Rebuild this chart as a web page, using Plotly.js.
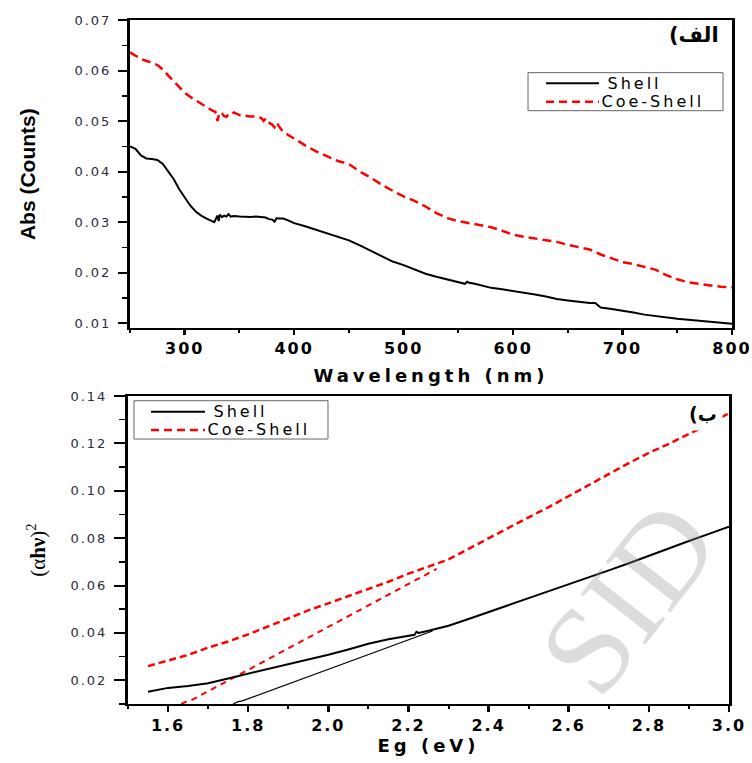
<!DOCTYPE html>
<html>
<head>
<meta charset="utf-8">
<script src="https://cdn.plot.ly/plotly-3.0.1.min.js"></script>
<style>
  html, body { margin: 0; padding: 0; background: #fff; }
  #chart { width: 752px; height: 763px; }
  .ytick text, .y2tick text { letter-spacing: 2px; }
  .xtick text, .x2tick text { letter-spacing: 2px; }
  .g-xtitle text, .g-x2title text { letter-spacing: 4px; }
  .annotation[data-index="3"] text, .annotation[data-index="4"] text,
  .annotation[data-index="5"] text, .annotation[data-index="6"] text { letter-spacing: 3px; }
</style>
</head>
<body>
<div id="chart"></div>
<script>
// ---------- Panel (الف): absorbance vs wavelength ----------
const wlShell = [250,255,260,265,270,275,280,285,290,295,300,305,310,315,320,325,327,329,330,331,332,334,336,338,340,342,345,350,355,360,365,370,374,377,380,382,384,386,390,395,400,410,420,430,440,450,460,470,480,490,500,510,520,530,540,550,556,558,560,565,570,580,590,600,610,620,630,640,650,660,670,675,680,690,700,710,720,730,740,750,760,770,780,790,800];
const absShell = [0.0450,0.0445,0.0432,0.0426,0.0425,0.0423,0.0415,0.0400,0.0385,0.0365,0.0348,0.0333,0.0321,0.0313,0.0307,0.0302,0.0300,0.0309,0.0313,0.0302,0.0315,0.0310,0.0313,0.0311,0.0316,0.0311,0.0312,0.0311,0.0310,0.0310,0.0311,0.0310,0.0309,0.0306,0.0305,0.0301,0.0308,0.0307,0.0307,0.0303,0.0298,0.0292,0.0285,0.0279,0.0272,0.0264,0.0254,0.0243,0.0232,0.0222,0.0215,0.0206,0.0198,0.0192,0.0187,0.0181,0.0178,0.0182,0.0180,0.0178,0.0175,0.0170,0.0167,0.0164,0.0161,0.0157,0.0153,0.0148,0.0145,0.0142,0.0140,0.0140,0.0131,0.0128,0.0125,0.0121,0.0117,0.0114,0.0112,0.0109,0.0107,0.0105,0.0103,0.0101,0.0099];

const wlCoe = [250,255,260,265,270,275,280,285,290,295,300,305,310,315,320,325,328,329,330,331,332,334,336,338,340,342,345,350,355,360,365,370,372,374,376,378,380,382,384,386,390,395,400,410,420,430,440,450,460,470,480,490,500,510,520,530,540,550,560,570,580,590,600,610,620,630,640,650,660,670,680,690,700,710,720,730,740,750,760,770,780,790,800];
const absCoe = [0.0636,0.0630,0.0623,0.0619,0.0616,0.0611,0.0602,0.0590,0.0578,0.0566,0.0556,0.0548,0.0541,0.0535,0.0528,0.0521,0.0518,0.0506,0.0500,0.0510,0.0517,0.0515,0.0510,0.0508,0.0514,0.0513,0.0517,0.0512,0.0510,0.0509,0.0509,0.0506,0.0500,0.0505,0.0498,0.0496,0.0493,0.0488,0.0497,0.0490,0.0478,0.0472,0.0465,0.0452,0.0440,0.0431,0.0421,0.0415,0.0400,0.0388,0.0374,0.0362,0.0351,0.0342,0.0331,0.0318,0.0308,0.0302,0.0298,0.0295,0.0290,0.0283,0.0275,0.0271,0.0268,0.0265,0.0261,0.0255,0.0251,0.0246,0.0236,0.0229,0.0221,0.0217,0.0212,0.0206,0.0195,0.0187,0.0181,0.0178,0.0175,0.0172,0.0171];

// ---------- Panel (ب): (αhν)^2 vs Eg ----------
const egShell = [1.55,1.60,1.65,1.70,1.75,1.80,1.82,1.83,1.85,1.90,1.95,2.00,2.05,2.10,2.15,2.20,2.215,2.22,2.225,2.25,2.30,2.35,2.40,2.45,2.50,2.55,2.60,2.65,2.70,2.75,2.80,2.85,2.90,2.95,3.00];
const ahvShell = [0.0152,0.0168,0.0176,0.0188,0.0208,0.0228,0.0234,0.0240,0.0246,0.0266,0.0287,0.0308,0.0330,0.0354,0.0373,0.0389,0.0392,0.0405,0.0400,0.0409,0.0430,0.0459,0.0488,0.0516,0.0545,0.0574,0.0604,0.0634,0.0664,0.0694,0.0726,0.0756,0.0788,0.0818,0.0848];

const egShellFit = [1.7625,1.775,1.785,2.225,2.26];
const ahvShellFit = [0.0100,0.0110,0.0113,0.0387,0.0408];

const egCoe = [1.55,1.60,1.65,1.70,1.75,1.80,1.85,1.90,1.95,2.00,2.05,2.10,2.15,2.20,2.25,2.30,2.35,2.40,2.45,2.50,2.55,2.60,2.65,2.70,2.75,2.80,2.85,2.90,2.95,3.00];
const ahvCoe = [0.0260,0.0282,0.0307,0.0338,0.0364,0.0394,0.0428,0.0463,0.0495,0.0525,0.0555,0.0586,0.0616,0.0650,0.0679,0.0710,0.0755,0.0800,0.0846,0.0888,0.0931,0.0978,0.1024,0.1071,0.1117,0.1160,0.1198,0.1240,0.1280,0.1328];

const egCoeFit = [1.633,1.645,1.655,2.27];
const ahvCoeFit = [0.0100,0.0110,0.0113,0.0670];

const seriesNames = ['Shell', 'Coe-Shell'];

const RED = '#ff0000';
const BLACK = '#000000';
const shellLine = {color:BLACK, width:2};
const coeLineTop = {color:RED, width:2.5, dash:'9px,5px'};
const coeLineBot = {color:RED, width:2.5, dash:'7px,4px'};

const traces = [
  {x: wlShell, y: absShell, xaxis:'x', yaxis:'y', type:'scatter', mode:'lines', name: seriesNames[0], line:shellLine, showlegend:false},
  {x: wlCoe, y: absCoe, xaxis:'x', yaxis:'y', type:'scatter', mode:'lines', name: seriesNames[1], line:coeLineTop, showlegend:false},
  {x: egShellFit, y: ahvShellFit, xaxis:'x2', yaxis:'y2', type:'scatter', mode:'lines', name: seriesNames[0] + ' fit', showlegend:false,
   line:{color:BLACK, width:1.2}},
  {x: egCoeFit, y: ahvCoeFit, xaxis:'x2', yaxis:'y2', type:'scatter', mode:'lines', name: seriesNames[1] + ' fit', showlegend:false,
   line:{color:RED, width:2, dash:'6px,5px'}},
  {x: egShell, y: ahvShell, xaxis:'x2', yaxis:'y2', type:'scatter', mode:'lines', name: seriesNames[0], line:shellLine, showlegend:false},
  {x: egCoe, y: ahvCoe, xaxis:'x2', yaxis:'y2', type:'scatter', mode:'lines', name: seriesNames[1], line:coeLineBot, showlegend:false}
];

const yTickFont = {family:'DejaVu Sans', size:13, color:'#2b2b3b'};
const xTickFont = {family:'DejaVu Sans', size:16, color:'#000', weight:'bold'};

const baseX = {
  showline:true, linewidth:2, linecolor:'#000', mirror:true, showgrid:false, zeroline:false,
  ticks:'outside', ticklen:5, tickwidth:2.5, tickcolor:'#000', tickfont:xTickFont
};
const baseY = {
  showline:true, linewidth:3, linecolor:'#000', mirror:true, showgrid:false, zeroline:false,
  ticks:'outside', tickwidth:2, tickcolor:'#000', tickfont:yTickFont, ticklabelstandoff:4
};

// legend boxes drawn in paper coordinates (layout only, not data)
function legendBox(x0, x1, y0, y1, yRow1, yRow2, lx0, lx1, tx, lineB, lineR) {
  return {
    shapes: [
      {type:'rect', xref:'paper', yref:'paper', x0:x0, x1:x1, y0:y0, y1:y1, line:{color:'#666', width:1}, fillcolor:'#fff', layer:'above'},
      {type:'line', xref:'paper', yref:'paper', x0:lx0, x1:lx1, y0:yRow1, y1:yRow1, line:lineB, layer:'above'},
      {type:'line', xref:'paper', yref:'paper', x0:lx0, x1:lx1, y0:yRow2, y1:yRow2, line:lineR, layer:'above'}
    ],
    annotations: [
      {text:seriesNames[0], xref:'paper', yref:'paper', x:tx, y:yRow1, xanchor:'left', yanchor:'middle', showarrow:false,
       font:{family:'DejaVu Sans', size:16, color:'#000'}},
      {text:seriesNames[1], xref:'paper', yref:'paper', x:tx, y:yRow2, xanchor:'left', yanchor:'middle', showarrow:false,
       font:{family:'DejaVu Sans', size:16, color:'#000'}}
    ]
  };
}
const legTop = legendBox(0.6623, 0.9851, 0.8674, 0.9230, 0.9075, 0.8806, 0.6921, 0.7798, 0.8030,
                         {color:BLACK, width:2}, {color:RED, width:2.5, dash:'8px,5px'});
const legBot = legendBox(0.0099, 0.3311, 0.3874, 0.4434, 0.4273, 0.4006, 0.0381, 0.1275, 0.1510,
                         {color:BLACK, width:2}, {color:RED, width:2.5, dash:'8px,5px'});

const layout = {
  width:752, height:763,
  margin:{l:128, r:20, t:20, b:59},
  paper_bgcolor:'#fff', plot_bgcolor:'#fff',
  font:{family:'DejaVu Sans', color:'#000'},
  showlegend:false,
  xaxis: Object.assign({}, baseX, {
    domain:[0.0033, 1], range:[250, 800], anchor:'y',
    tick0:0, dtick:100,
    minor:{ticks:'outside', ticklen:3, tickwidth:2, tickcolor:'#000', dtick:50, tick0:0},
    title:{text:'Wavelength (nm)', font:{family:'DejaVu Sans', size:18, weight:'bold', color:'#000'}, standoff:12}
  }),
  yaxis: Object.assign({}, baseY, {
    domain:[0.5493, 1], range:[0.009, 0.07], anchor:'x',
    tick0:0, dtick:0.01, tickformat:'.2f', ticklen:9,
    minor:{ticks:'outside', ticklen:5, tickwidth:1.5, tickcolor:'#000', dtick:0.005, tick0:0},
    title:{text:'Abs (Counts)', font:{family:'Liberation Sans', size:21, weight:'bold', color:'#000'}, standoff:34}
  }),
  xaxis2: Object.assign({}, baseX, {
    domain:[0, 0.995], range:[1.5, 3.0], anchor:'y2',
    tick0:0, dtick:0.2, tickformat:'.1f', ticklen:6,
    minor:{ticks:'outside', ticklen:3, tickwidth:2, tickcolor:'#000', dtick:0.1, tick0:0},
    title:{text:'Eg (eV)', font:{family:'DejaVu Sans', size:18, weight:'bold', color:'#000'}, standoff:2}
  }),
  yaxis2: Object.assign({}, baseY, {
    domain:[0, 0.4503], range:[0.01, 0.14], anchor:'x2',
    tick0:0, dtick:0.02, tickformat:'.2f', ticklen:11,
    minor:{ticks:'outside', ticklen:6, tickwidth:1.5, tickcolor:'#000', dtick:0.01, tick0:0},
    title:{text:'(α<b>hν</b>)<sup>2</sup>', font:{family:'Liberation Serif', size:21, color:'#000'}, standoff:20}
  }),
  shapes: legTop.shapes.concat(legBot.shapes),
  annotations: [
    {text:'SID', xref:'paper', yref:'paper', x:0.828, y:0.155, xanchor:'center', yanchor:'middle', showarrow:false, textangle:-52,
     font:{family:'Liberation Serif', size:125, color:'rgba(150,150,150,0.33)'}},
    {text:'(الف', xref:'paper', yref:'paper', x:0.937, y:0.978, xanchor:'center', yanchor:'middle', showarrow:false,
     font:{family:'DejaVu Sans', size:21, weight:'bold', color:'#000'}},
    {text:'(ب', xref:'paper', yref:'paper', x:0.952, y:0.424, xanchor:'center', yanchor:'middle', showarrow:false,
     bgcolor:'#fff', borderpad:5,
     font:{family:'DejaVu Sans', size:19, weight:'bold', color:'#000'}}
  ].concat(legTop.annotations, legBot.annotations)
};

Plotly.newPlot('chart', traces, layout, {staticPlot:true, displayModeBar:false});
</script>
</body>
</html>
